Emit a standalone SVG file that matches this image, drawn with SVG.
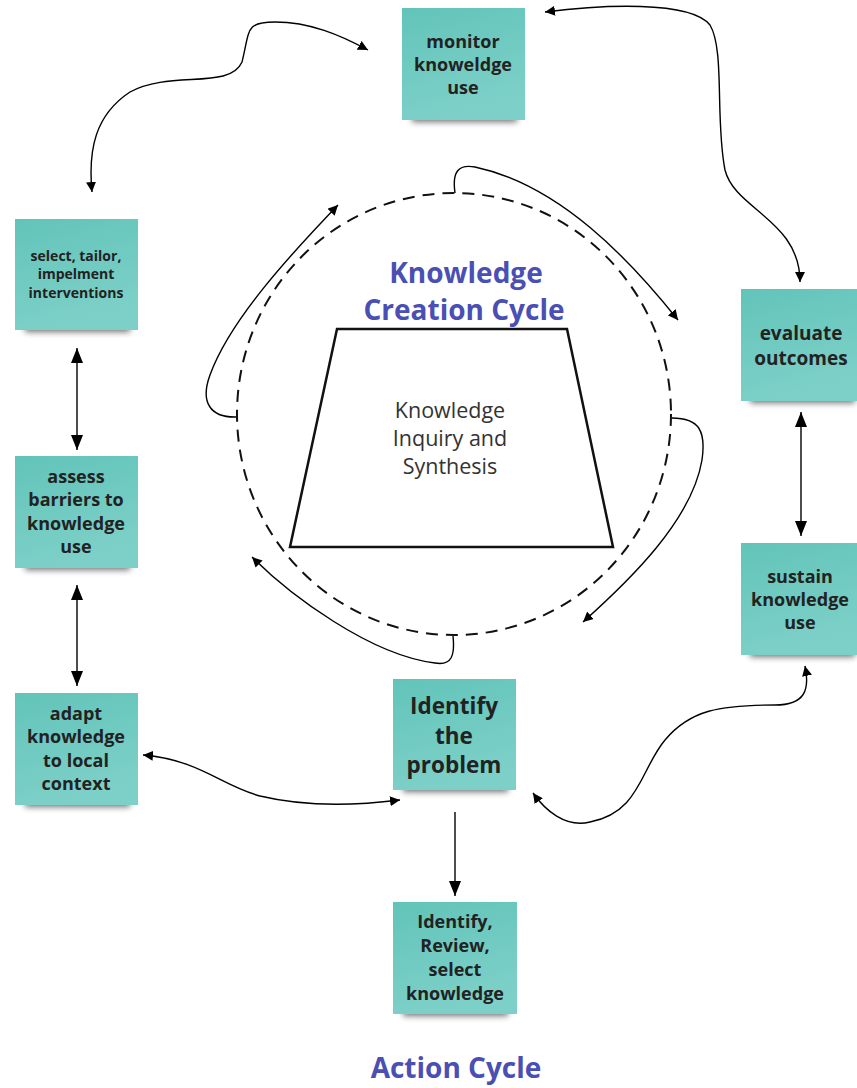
<svg xmlns="http://www.w3.org/2000/svg" width="857" height="1088" viewBox="0 0 857 1088">
<style>
.note{fill:url(#teal);}
.shadow{fill:#000;opacity:0.55;filter:url(#blur);}
.nt{font-family:"Open Sans","DejaVu Sans",sans-serif;font-weight:bold;font-size:18px;fill:#222;text-anchor:middle;}
.conn{fill:none;stroke:#000;stroke-width:1.4;}
.title{font-family:"Open Sans","DejaVu Sans",sans-serif;font-weight:bold;font-size:28px;fill:#4a4fb4;text-anchor:middle;}
</style>
<defs>
<linearGradient id="teal" x1="0" y1="0" x2="0.3" y2="1">
<stop offset="0" stop-color="#62c4b9"/>
<stop offset="1" stop-color="#7dd0c8"/>
</linearGradient>
<filter id="blur" x="-20%" y="-100%" width="140%" height="300%"><feGaussianBlur stdDeviation="3"/></filter>
<marker id="arr" viewBox="0 0 10 10" refX="10" refY="5" markerWidth="10" markerHeight="10" markerUnits="userSpaceOnUse" orient="auto-start-reverse">
<path d="M0,0 L10,5 L0,10 z" fill="#000"/>
</marker>
<marker id="arrb" viewBox="0 0 15 12" refX="15" refY="6" markerWidth="15" markerHeight="12" markerUnits="userSpaceOnUse" orient="auto-start-reverse">
<path d="M0,0 L15,6 L0,12 z" fill="#000"/>
</marker>
</defs>

<g id="connectors">
<path class="conn" marker-start="url(#arr)" marker-end="url(#arr)" d="M92,192 C88,150 95,115 130,92 C170,70 230,90 242,62 C250,30 245,22 275,22 C310,22 340,35 368,50"/>
<path class="conn" marker-start="url(#arr)" marker-end="url(#arr)" d="M545,12 C600,5 690,0 710,25 C725,50 715,120 725,170 C735,210 800,220 800,282"/>
<path class="conn" marker-start="url(#arrb)" marker-end="url(#arrb)" d="M77,348 L77,450"/>
<path class="conn" marker-start="url(#arrb)" marker-end="url(#arrb)" d="M77,585 L77,686"/>
<path class="conn" marker-start="url(#arrb)" marker-end="url(#arrb)" d="M801,412 L801,536"/>
<path class="conn" marker-start="url(#arr)" marker-end="url(#arr)" d="M805,666 C810,690 805,705 775,705 C720,705 690,710 665,740 C640,770 640,812 590,822 C565,828 545,810 533,793"/>
<path class="conn" marker-start="url(#arr)" marker-end="url(#arr)" d="M143,755 C200,760 220,785 260,796 C310,808 360,805 400,800"/>
<path class="conn" marker-end="url(#arrb)" d="M455,812 L455,896"/>
<path class="conn" marker-end="url(#arr)" d="M455,193 C452,172 458,164 475,167 C560,185 630,260 678,320"/>
<path class="conn" marker-end="url(#arr)" d="M672,418 C700,418 706,432 702,460 C692,520 630,580 583,622"/>
<path class="conn" marker-end="url(#arr)" d="M453,636 C455,655 452,666 435,663 C370,655 290,595 252,557"/>
<path class="conn" marker-end="url(#arr)" d="M237,417 C210,418 200,402 210,375 C230,320 290,255 338,205"/>
</g>

<g id="knowledge-creation">
<ellipse cx="454" cy="414" rx="217" ry="221" fill="none" stroke="#111" stroke-width="2" stroke-dasharray="12,8"/>
<polygon points="337,329 567,329 613,547 290,547" fill="#fff" stroke="#111" stroke-width="2.5"/>
<text class="title"><tspan x="466" y="283">Knowledge</tspan><tspan x="464" y="320">Creation Cycle</tspan></text>
<text font-family="'Open Sans','DejaVu Sans',sans-serif" font-size="21.5" fill="#333" text-anchor="middle"><tspan x="450" y="418">Knowledge</tspan><tspan x="450" y="446">Inquiry and</tspan><tspan x="450" y="474">Synthesis</tspan></text>
</g>

<g id="monitor">
<rect class="shadow" x="412" y="112" width="105" height="10"/>
<rect class="note" x="402" y="8" width="123" height="112"/>
<text class="nt"><tspan x="463" y="48">monitor</tspan><tspan x="463" y="71">knoweldge</tspan><tspan x="463" y="94">use</tspan></text>
</g>

<g id="select">
<rect class="shadow" x="25" y="322" width="105" height="10"/>
<rect class="note" x="15" y="219" width="123" height="111"/>
<text class="nt" style="font-size:14px"><tspan x="76" y="261">select, tailor,</tspan><tspan x="76" y="279">impelment</tspan><tspan x="76" y="298">interventions</tspan></text>
</g>

<g id="evaluate">
<rect class="shadow" x="750" y="393" width="105" height="10"/>
<rect class="note" x="741" y="289" width="120" height="112"/>
<text class="nt" style="font-size:19px"><tspan x="801" y="340">evaluate</tspan><tspan x="801" y="365">outcomes</tspan></text>
</g>

<g id="sustain">
<rect class="shadow" x="750" y="647" width="105" height="10"/>
<rect class="note" x="741" y="543" width="120" height="112"/>
<text class="nt"><tspan x="800" y="583">sustain</tspan><tspan x="800" y="606">knowledge</tspan><tspan x="800" y="629">use</tspan></text>
</g>

<g id="assess">
<rect class="shadow" x="25" y="560" width="105" height="10"/>
<rect class="note" x="15" y="456" width="123" height="112"/>
<text class="nt"><tspan x="76" y="483">assess</tspan><tspan x="76" y="506">barriers to</tspan><tspan x="76" y="530">knowledge</tspan><tspan x="76" y="553">use</tspan></text>
</g>

<g id="adapt">
<rect class="shadow" x="25" y="797" width="105" height="10"/>
<rect class="note" x="15" y="693" width="123" height="112"/>
<text class="nt"><tspan x="76" y="720">adapt</tspan><tspan x="76" y="743">knowledge</tspan><tspan x="76" y="767">to local</tspan><tspan x="76" y="790">context</tspan></text>
</g>

<g id="identify-problem">
<rect class="shadow" x="403" y="782" width="105" height="10"/>
<rect class="note" x="393" y="679" width="123" height="111"/>
<text class="nt" style="font-size:22.5px"><tspan x="454" y="714">Identify</tspan><tspan x="454" y="744">the</tspan><tspan x="454" y="773">problem</tspan></text>
</g>

<g id="identify-review">
<rect class="shadow" x="403" y="1006" width="105" height="10"/>
<rect class="note" x="393" y="902" width="124" height="112"/>
<text class="nt"><tspan x="455" y="928">Identify,</tspan><tspan x="455" y="952">Review,</tspan><tspan x="455" y="976">select</tspan><tspan x="455" y="1000">knowledge</tspan></text>
</g>

<g id="action-cycle">
<text class="title" x="456" y="1078">Action Cycle</text>
</g>
</svg>
